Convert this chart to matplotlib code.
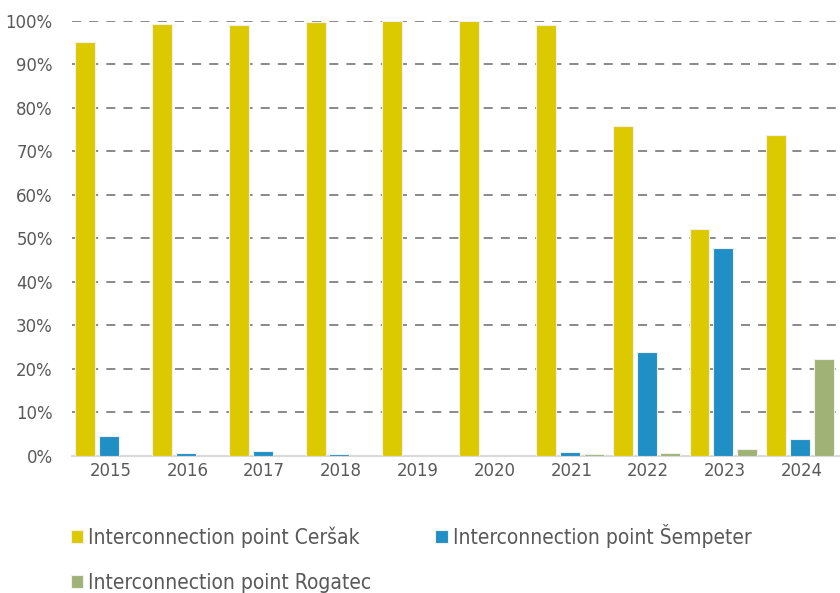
import numpy as np
import matplotlib.pyplot as plt
from matplotlib.ticker import PercentFormatter

years = ['2015', '2016', '2017', '2018', '2019', '2020', '2021', '2022', '2023', '2024']
cersak = [95.2, 99.3, 99.0, 99.6, 100.0, 100.0, 99.0, 75.9, 52.1, 73.7]
sempeter = [4.7, 0.6, 1.1, 0.4, 0.0, 0.0, 1.0, 23.9, 47.7, 3.8]
rogatec = [0.0, 0.0, 0.0, 0.0, 0.0, 0.0, 0.4, 0.6, 1.5, 22.4]

labels = ['Interconnection point Ceršak', 'Interconnection point Šempeter',
          'Interconnection point Rogatec']
colors = ['#DDC900', '#1F8FC6', '#A0B275']

plt.rcParams['font.family'] = ['DejaVu Sans']
plt.rcParams['font.stretch'] = 'condensed'
txt = '#595959'

fig = plt.figure(figsize=(8.4, 5.93), dpi=100)
ax = fig.add_axes([0.086, 0.231, 0.914, 0.734])

x = np.arange(len(years))
w = 0.26
step = 0.31
bars = []
for k, (vals, c, lab) in enumerate(zip([cersak, sempeter, rogatec], colors, labels)):
    b = ax.bar(x + (k - 1) * step - 0.02, vals, w, color=c, label=lab,
               edgecolor='#f0f0f0', linewidth=0.8, zorder=3)
    bars.append(b)

ax.set_xlim(-0.5, 9.5)
ax.set_ylim(0, 100)
ax.set_yticks(range(0, 101, 10))
ax.yaxis.set_major_formatter(PercentFormatter(decimals=0))
ax.set_xticks(x)
ax.set_xticklabels(years)
ax.grid(axis='y', color='#808080', linestyle=(0, (5, 4.5)), linewidth=1.3, zorder=0)
for s in ['top', 'right', 'left']:
    ax.spines[s].set_visible(False)
ax.spines['bottom'].set_color('#d9d9d9')
ax.spines['bottom'].set_linewidth(1.5)
ax.tick_params(length=0, labelsize=13.2, colors=txt, pad=4)
ax.tick_params(axis='y', pad=14)

# row-major order in the legend: Ceršak, Šempeter / Rogatec
order = [0, 2, 1]
fig.legend([bars[i] for i in order], [labels[i] for i in order],
           loc='upper left', bbox_to_anchor=(0.0725, 0.134), ncol=2, frameon=False,
           borderpad=0, fontsize=15, labelcolor=txt, handlelength=0.58,
           handleheight=0.58, handletextpad=0.24, columnspacing=3.07,
           labelspacing=1.2)

fig.savefig('out.png', dpi=100)
